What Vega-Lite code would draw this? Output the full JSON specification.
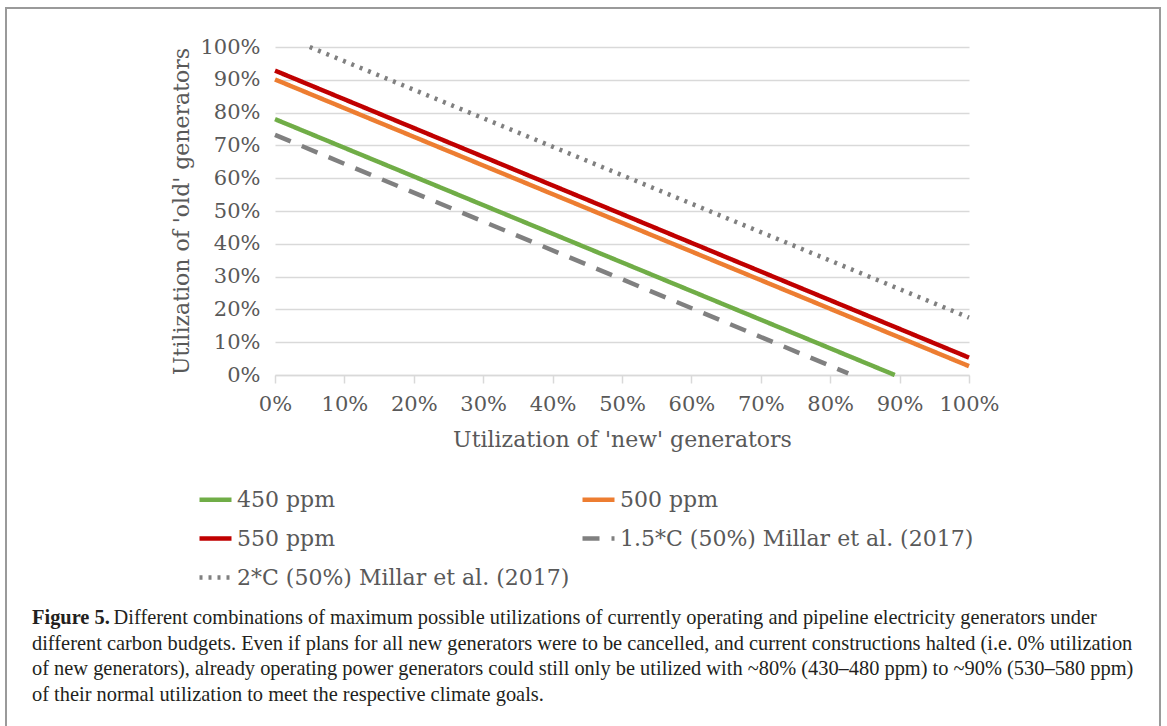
{
  "$schema": "https://vega.github.io/schema/vega-lite/v6.json",
  "width": 694,
  "height": 328,
  "autosize": {"type": "none"},
  "padding": {"left": 275, "top": 47, "right": 198, "bottom": 351},
  "background": "white",
  "title": {
    "text": "Figure 5.",
    "subtitle": [
      "\u200b\u00a0\u00a0\u00a0\u00a0\u00a0\u00a0\u00a0\u00a0\u00a0\u00a0\u00a0\u00a0\u00a0\u00a0\u00a0 Different combinations of maximum possible utilizations of currently operating and pipeline electricity generators under",
      "different carbon budgets. Even if plans for all new generators were to be cancelled, and current constructions halted (i.e. 0% utilization",
      "of new generators), already operating power generators could still only be utilized with ~80% (430–480 ppm) to ~90% (530–580 ppm)",
      "of their normal utilization to meet the respective climate goals."
    ],
    "orient": "bottom",
    "anchor": "start",
    "frame": "bounds",
    "dx": 27,
    "offset": -122,
    "font": "Liberation Serif",
    "fontSize": 20.4,
    "fontWeight": "bold",
    "color": "#231f20",
    "subtitleFont": "Liberation Serif",
    "subtitleFontSize": 20.4,
    "subtitleColor": "#231f20",
    "subtitleLineHeight": 25.5,
    "subtitlePadding": -20.4
  },
  "data": {
    "values": [
      {"series": "450 ppm", "x": 0, "y": 0.78},
      {"series": "450 ppm", "x": 0.893, "y": 0},
      {"series": "500 ppm", "x": 0, "y": 0.901},
      {"series": "500 ppm", "x": 1, "y": 0.027},
      {"series": "550 ppm", "x": 0, "y": 0.928},
      {"series": "550 ppm", "x": 1, "y": 0.053},
      {"series": "1.5*C (50%) Millar et al. (2017)", "x": 0, "y": 0.732},
      {"series": "1.5*C (50%) Millar et al. (2017)", "x": 0.826, "y": 0.005},
      {"series": "2*C (50%) Millar et al. (2017)", "x": 0.05, "y": 1.0},
      {"series": "2*C (50%) Millar et al. (2017)", "x": 1, "y": 0.175}
    ]
  },
  "layer": [
    {
      "data": {"values": [{"frame": "border"}]},
      "mark": {"type": "rect", "fill": null, "stroke": "#9a9a9a", "strokeWidth": 2, "clip": false},
      "encoding": {
        "x": {"datum": -0.3876, "type": "quantitative"},
        "x2": {"datum": 1.2752},
        "y": {"datum": 1.119, "type": "quantitative"},
        "y2": {"datum": -1.08}
      }
    },
    {
      "mark": {"type": "line", "strokeWidth": 4.5, "strokeCap": "butt"},
      "encoding": {
        "x": {
          "field": "x", "type": "quantitative",
          "scale": {"domain": [0, 1], "nice": false, "zero": false},
          "axis": {
            "title": "Utilization of 'new' generators",
            "format": ".0%",
            "values": [0, 0.1, 0.2, 0.3, 0.4, 0.5, 0.6, 0.7, 0.8, 0.9, 1],
            "tickCount": 11,
            "labelOverlap": false,
            "labelFlush": false,
            "grid": false,
            "domainColor": "#d9d9d9",
            "domainWidth": 1.5,
            "tickColor": "#d9d9d9",
            "tickWidth": 1.5,
            "tickSize": 8,
            "labelPadding": 10,
            "titlePadding": 15
          }
        },
        "y": {
          "field": "y", "type": "quantitative",
          "scale": {"domain": [0, 1], "nice": false, "zero": false},
          "axis": {
            "title": "Utilization of 'old' generators",
            "format": ".0%",
            "values": [0, 0.1, 0.2, 0.3, 0.4, 0.5, 0.6, 0.7, 0.8, 0.9, 1],
            "tickCount": 11,
            "labelOverlap": false,
            "labelFlush": false,
            "labelBound": false,
            "grid": true,
            "gridColor": "#d9d9d9",
            "gridWidth": 1.5,
            "domain": false,
            "ticks": false,
            "labelPadding": 15,
            "titlePadding": 6
          }
        },
        "color": {
          "field": "series", "type": "nominal",
          "scale": {
            "domain": ["450 ppm", "550 ppm", "2*C (50%) Millar et al. (2017)", "500 ppm", "1.5*C (50%) Millar et al. (2017)"],
            "range": ["#70ad47", "#c00000", "#808080", "#ed7d31", "#808080"]
          },
          "legend": {
            "title": null,
            "orient": "none",
            "legendX": -78,
            "legendY": 434,
            "columns": 2,
            "symbolType": "stroke",
            "symbolSize": 1024,
            "symbolStrokeWidth": 4.5,
            "rowPadding": 9,
            "columnPadding": 3,
            "labelFont": "DejaVu Serif",
            "labelFontSize": 22,
            "labelColor": "#595959",
            "labelLimit": 400,
            "labelOffset": 3
          }
        },
        "strokeDash": {
          "field": "series", "type": "nominal",
          "scale": {
            "domain": ["450 ppm", "550 ppm", "2*C (50%) Millar et al. (2017)", "500 ppm", "1.5*C (50%) Millar et al. (2017)"],
            "range": [[1, 0], [1, 0], [3, 6], [1, 0], [17, 12]]
          },
          "legend": null
        },
        "detail": {"field": "series"}
      }
    }
  ],
  "config": {
    "view": {"stroke": null},
    "axis": {
      "labelFont": "DejaVu Serif",
      "labelFontSize": 21,
      "labelColor": "#595959",
      "titleFont": "DejaVu Serif",
      "titleFontSize": 22,
      "titleFontWeight": "normal",
      "titleColor": "#595959"
    }
  }
}
